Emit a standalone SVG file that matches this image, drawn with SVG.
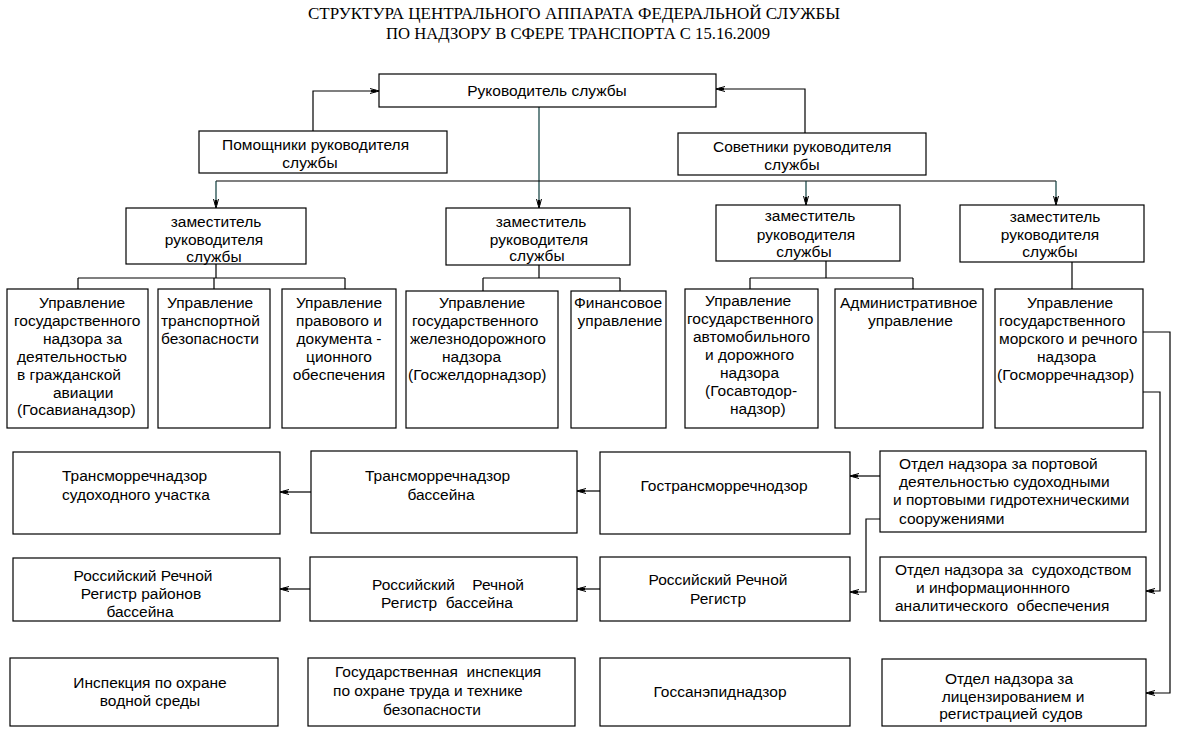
<svg xmlns="http://www.w3.org/2000/svg" width="1182" height="733" viewBox="0 0 1182 733">
<style>
.bx{fill:#fff;stroke:#000;stroke-width:1.2}
.t{font-family:"Liberation Sans",Arial,sans-serif;font-size:15.5px;fill:#000}
.m{text-anchor:middle}
.ttl{font-family:"Liberation Serif","Times New Roman",serif;font-size:16px;fill:#000}
.ln{fill:none;stroke:#000;stroke-width:1.2}
.tl{fill:none;stroke:#0b3b3b;stroke-width:1.2}
</style>
<defs>
<marker id="arr" viewBox="0 0 10 6" refX="10" refY="3" markerWidth="10" markerHeight="6" orient="auto" markerUnits="userSpaceOnUse">
<path d="M1,0.5 L10,3 L1,5.5" fill="none" stroke="#000" stroke-width="1"/>
<rect x="2" y="1.8" width="5" height="2.4" fill="#000"/>
</marker>
</defs>
<rect width="1182" height="733" fill="#fff"/>
<g id="title">
<text class="ttl" x="308" y="19" textLength="532" lengthAdjust="spacingAndGlyphs">СТРУКТУРА ЦЕНТРАЛЬНОГО АППАРАТА ФЕДЕРАЛЬНОЙ СЛУЖБЫ</text>
<text class="ttl" x="386" y="39" textLength="384" lengthAdjust="spacingAndGlyphs">ПО НАДЗОРУ В СФЕРЕ ТРАНСПОРТА С 15.16.2009</text>
</g>
<g id="connectors">
<path class="ln" d="M313,131 V91 H379" marker-end="url(#arr)"/>
<path class="ln" d="M805,133 V89 H716" marker-end="url(#arr)"/>
<path class="tl" d="M539,107 V208" marker-end="url(#arr)"/>
<path class="ln" d="M216,181 H1056"/>
<path class="tl" d="M216,181 V208" marker-end="url(#arr)"/>
<path class="tl" d="M806,181 V205" marker-end="url(#arr)"/>
<path class="tl" d="M1056,181 V205" marker-end="url(#arr)"/>
<path class="ln" d="M216,264 V278 M78,278 H345 M78,278 V289 M214,278 V289 M345,278 V289"/>
<path class="ln" d="M539,265 V278 M483,278 H620 M483,278 V291 M620,278 V291"/>
<path class="ln" d="M826,261 V278 M750,278 H913 M750,278 V289 M913,278 V289"/>
<path class="ln" d="M1072,262 V289"/>
<path class="ln" d="M1143,332 H1170 V693 H1146" marker-end="url(#arr)"/>
<path class="ln" d="M1143,392 H1160 V591 H1146" marker-end="url(#arr)"/>
<path class="ln" d="M880,476 H850" marker-end="url(#arr)"/>
<path class="ln" d="M880,519 H866 V592 H850" marker-end="url(#arr)"/>
<path class="ln" d="M600,491 H577" marker-end="url(#arr)"/>
<path class="ln" d="M311,492 H280" marker-end="url(#arr)"/>
<path class="ln" d="M600,589 H577" marker-end="url(#arr)"/>
<path class="ln" d="M310,589 H280" marker-end="url(#arr)"/>
</g>
<g id="head"><rect class="bx" x="379" y="74" width="337" height="33"/><text class="t m" x="547" y="96">Руководитель службы</text></g>
<g id="assist"><rect class="bx" x="199" y="131" width="248" height="42"/><text class="t" x="222" y="150">Помощники руководителя</text><text class="t m" x="310" y="168">службы</text></g>
<g id="advisors"><rect class="bx" x="678" y="133" width="248" height="42"/><text class="t" x="713" y="152">Советники руководителя</text><text class="t m" x="792" y="170">службы</text></g>
<g id="dep1"><rect class="bx" x="126" y="208" width="180" height="56"/><text class="t m" x="216" y="227">заместитель</text><text class="t m" x="214" y="245">руководителя</text><text class="t m" x="214" y="262">службы</text></g>
<g id="dep2"><rect class="bx" x="446" y="208" width="184" height="57"/><text class="t m" x="541" y="227">заместитель</text><text class="t m" x="539" y="245">руководителя</text><text class="t m" x="537" y="261">службы</text></g>
<g id="dep3"><rect class="bx" x="716" y="205" width="184" height="56"/><text class="t m" x="810" y="221">заместитель</text><text class="t m" x="806" y="240">руководителя</text><text class="t m" x="804" y="257">службы</text></g>
<g id="dep4"><rect class="bx" x="960" y="205" width="184" height="57"/><text class="t m" x="1055" y="222">заместитель</text><text class="t m" x="1050" y="240">руководителя</text><text class="t m" x="1050" y="257">службы</text></g>
<g id="avia"><rect class="bx" x="7" y="289" width="141" height="139"/>
<text class="t" x="39" y="308">Управление</text><text class="t" x="14" y="326">государственного</text><text class="t" x="43" y="344">надзора за</text><text class="t" x="17" y="362">деятельностью</text><text class="t" x="17" y="380">в гражданской</text><text class="t" x="53" y="398">авиации</text><text class="t" x="17" y="415">(Госавианадзор)</text></g>
<g id="transsec"><rect class="bx" x="158" y="289" width="112" height="139"/><text class="t" x="167" y="308">Управление</text><text class="t" x="161" y="326">транспортной</text><text class="t" x="161" y="344">безопасности</text></g>
<g id="legal"><rect class="bx" x="282" y="289" width="114" height="139"/><text class="t m" x="339" y="308">Управление</text><text class="t m" x="339" y="326">правового и</text><text class="t m" x="339" y="344">документа -</text><text class="t m" x="339" y="362">ционного</text><text class="t m" x="339" y="380">обеспечения</text></g>
<g id="rail"><rect class="bx" x="406" y="291" width="152" height="137"/><text class="t" x="439" y="308">Управление</text><text class="t" x="412" y="326">государственного</text><text class="t" x="410" y="344">железнодорожного</text><text class="t" x="442" y="362">надзора</text><text class="t" x="408" y="380">(Госжелдорнадзор)</text></g>
<g id="fin"><rect class="bx" x="571" y="291" width="95" height="137"/><text class="t m" x="618" y="308">Финансовое</text><text class="t m" x="620" y="326">управление</text></g>
<g id="auto"><rect class="bx" x="685" y="289" width="133" height="139"/><text class="t" x="705" y="306">Управление</text><text class="t" x="687" y="324">государственного</text><text class="t" x="693" y="342">автомобильного</text><text class="t" x="705" y="360">и дорожного</text><text class="t" x="720" y="378">надзора</text><text class="t" x="705" y="396">(Госавтодор-</text><text class="t" x="730" y="414">надзор)</text></g>
<g id="admin"><rect class="bx" x="835" y="289" width="148" height="139"/><text class="t" x="840" y="308">Административное</text><text class="t" x="868" y="326">управление</text></g>
<g id="sea"><rect class="bx" x="995" y="289" width="148" height="139"/><text class="t" x="1027" y="308">Управление</text><text class="t" x="999" y="326">государственного</text><text class="t" x="999" y="344">морского и речного</text><text class="t" x="1037" y="362">надзора</text><text class="t" x="997" y="380">(Госморречнадзор)</text></g>
<g id="tmr_sec"><rect class="bx" x="13" y="452" width="267" height="82"/><text class="t" x="62" y="481">Трансморречнадзор</text><text class="t" x="62" y="500">судоходного участка</text></g>
<g id="tmr_bas"><rect class="bx" x="311" y="451" width="266" height="82"/><text class="t" x="365" y="481">Трансморречнадзор</text><text class="t m" x="441" y="500">бассейна</text></g>
<g id="gtmr"><rect class="bx" x="600" y="452" width="250" height="82"/><text class="t m" x="724" y="491">Гострансморречнодзор</text></g>
<g id="port"><rect class="bx" x="880" y="451" width="266" height="81"/><text class="t" x="899" y="469">Отдел надзора за портовой</text><text class="t" x="899" y="487">деятельностью судоходными</text><text class="t" x="893" y="505">и портовыми гидротехническими</text><text class="t" x="899" y="524">сооружениями</text></g>
<g id="rrr_dist"><rect class="bx" x="13" y="558" width="267" height="63"/><text class="t m" x="143" y="581">Российский Речной</text><text class="t m" x="141" y="599">Регистр районов</text><text class="t m" x="140" y="617">бассейна</text></g>
<g id="rrr_bas"><rect class="bx" x="310" y="557" width="267" height="64"/><text class="t m" x="448" y="590" xml:space="preserve">Российский    Речной</text><text class="t m" x="447" y="608" xml:space="preserve">Регистр  бассейна</text></g>
<g id="rrr"><rect class="bx" x="600" y="557" width="250" height="64"/><text class="t m" x="718" y="585">Российский Речной</text><text class="t m" x="718" y="604">Регистр</text></g>
<g id="nav"><rect class="bx" x="880" y="557" width="266" height="64"/><text class="t" x="895" y="575" xml:space="preserve">Отдел надзора за  судоходством</text><text class="t" x="916" y="593">и информационнного</text><text class="t" x="895" y="611" xml:space="preserve">аналитического  обеспечения</text></g>
<g id="water"><rect class="bx" x="10" y="658" width="268" height="68"/><text class="t m" x="150" y="688">Инспекция по охране</text><text class="t m" x="150" y="706">водной среды</text></g>
<g id="labor"><rect class="bx" x="308" y="658" width="267" height="68"/><text class="t" x="335" y="677" xml:space="preserve">Государственная  инспекция</text><text class="t" x="333" y="696">по охране труда и технике</text><text class="t m" x="432" y="715">безопасности</text></g>
<g id="sanep"><rect class="bx" x="600" y="658" width="250" height="68"/><text class="t m" x="720" y="697">Госсанэпиднадзор</text></g>
<g id="license"><rect class="bx" x="882" y="659" width="264" height="67"/><text class="t m" x="1009" y="684">Отдел надзора за</text><text class="t m" x="1013" y="702">лицензированием и</text><text class="t m" x="1011" y="719">регистрацией судов</text></g>
</svg>
